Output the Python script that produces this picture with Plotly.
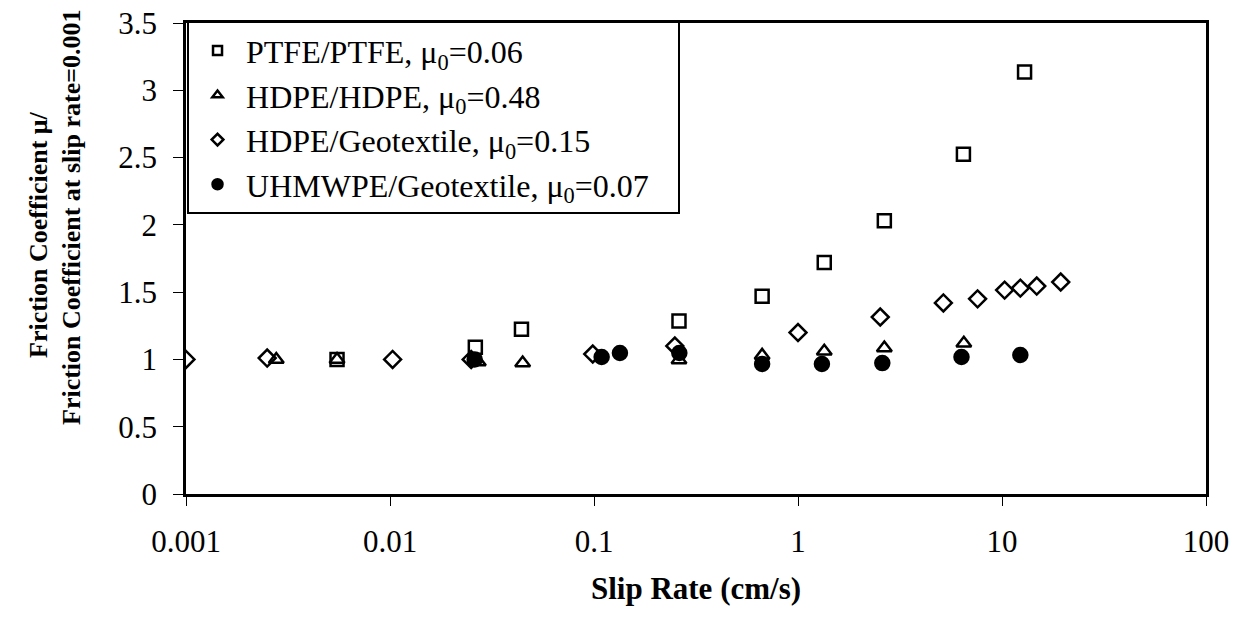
import plotly.graph_objects as go

# PTFE/PTFE
ptfe_x = [0.0055, 0.0262, 0.0441, 0.261, 0.667, 1.345, 2.65, 6.47, 12.9]
ptfe_y = [1.00, 1.09, 1.225, 1.285, 1.47, 1.72, 2.03, 2.525, 3.135]
# HDPE/HDPE
hdpe_x = [0.00277, 0.0055, 0.0271, 0.0447, 0.261, 0.667, 1.345, 2.65, 6.5]
hdpe_y = [1.00, 1.00, 0.98, 0.973, 0.995, 1.03, 1.06, 1.085, 1.12]
# HDPE/Geotextile
geo_x = [0.001, 0.0025, 0.0103, 0.025, 0.0986, 0.249, 1.0, 2.53, 5.16, 7.59, 10.3, 12.3, 14.8, 19.4]
geo_y = [1.00, 1.01, 1.00, 1.00, 1.04, 1.10, 1.20, 1.315, 1.42, 1.45, 1.515, 1.53, 1.545, 1.575]
# UHMWPE/Geotextile
uh_x = [0.026, 0.109, 0.134, 0.262, 0.667, 1.31, 2.59, 6.33, 12.3]
uh_y = [1.00, 1.018, 1.048, 1.048, 0.966, 0.966, 0.973, 1.018, 1.033]

x_ticks = [0.001, 0.01, 0.1, 1, 10, 100]
x_labels = ["0.001", "0.01", "0.1", "1", "10", "100"]
y_ticks = [0, 0.5, 1, 1.5, 2, 2.5, 3, 3.5]
y_labels = ["0", "0.5", "1", "1.5", "2", "2.5", "3", "3.5"]

names = ["PTFE/PTFE, μ<sub>0</sub>=0.06", "HDPE/HDPE, μ<sub>0</sub>=0.48",
         "HDPE/Geotextile, μ<sub>0</sub>=0.15", "UHMWPE/Geotextile, μ<sub>0</sub>=0.07"]
series = [(ptfe_x, ptfe_y), (hdpe_x, hdpe_y), (geo_x, geo_y), (uh_x, uh_y)]
symbols = ["square-open", "triangle-up-open", "diamond-open", "circle"]
sizes = [13, 13, 13, 14]
legend_sizes = [9, 9, 9, 10]

fig = go.Figure()
for (xs, ys), sym, sz in zip(series, symbols, sizes):
    fig.add_trace(go.Scatter(x=xs, y=ys, mode="markers", showlegend=False,
                             marker=dict(symbol=sym, size=sz, color="black",
                                         line=dict(width=2.5, color="black"))))
# legend entries with smaller symbols (as in the reference)
pad = "\u00a0" * 3
for name, sym, sz in zip(names, symbols, legend_sizes):
    fig.add_trace(go.Scatter(x=[None], y=[None], mode="markers", name=name + pad,
                             marker=dict(symbol=sym, size=sz, color="black",
                                         line=dict(width=2.5, color="black"))))

font = "Liberation Serif, Times New Roman, serif"
fig.update_layout(
    width=1236, height=618,
    margin=dict(l=186, r=30, t=23, b=124, autoexpand=False),
    plot_bgcolor="white", paper_bgcolor="white",
    font=dict(family=font, size=31, color="black"),
    showlegend=True,
    legend=dict(x=0.001, y=1.004, xanchor="left", yanchor="top",
                bgcolor="white", bordercolor="black", borderwidth=2,
                font=dict(family=font, size=32, color="black"),
                itemsizing="trace", itemwidth=47, tracegroupgap=0),
)
fig.update_xaxes(type="log", range=[-3, 2], tickvals=x_ticks, ticktext=x_labels,
                 showgrid=False, zeroline=False, showline=True, linecolor="black", linewidth=2.5,
                 mirror=True, ticks="outside", ticklen=9, tickwidth=1, tickcolor="black",
                 tickfont=dict(size=31), ticklabelstandoff=9, ticklabeloverflow="allow",
                 automargin=False,
                 title=dict(text="<b>Slip Rate (cm/s)</b>", font=dict(size=31), standoff=20))
fig.update_yaxes(range=[0, 3.5], tickvals=y_ticks, ticktext=y_labels,
                 showgrid=False, zeroline=False, showline=True, linecolor="black", linewidth=2.5,
                 mirror=True, ticks="outside", ticklen=10, tickwidth=1, tickcolor="black",
                 tickfont=dict(size=31), ticklabelstandoff=10, ticklabeloverflow="allow",
                 automargin=False)

# y-axis title as two rotated lines (positions in page pixels)
plot_w, plot_h = 1020, 471
fig.add_annotation(text="<b>Friction Coefficient μ/</b>", xref="paper", yref="paper",
                   x=(38 - 186) / plot_w, y=(494 - 235) / plot_h, showarrow=False, textangle=-90,
                   xanchor="center", yanchor="middle", font=dict(size=26))
fig.add_annotation(text="<b>Friction Coefficient at slip rate=0.001</b>", xref="paper", yref="paper",
                   x=(71 - 186) / plot_w, y=(494 - 217) / plot_h, showarrow=False, textangle=-90,
                   xanchor="center", yanchor="middle", font=dict(size=26))

fig.write_html("out.html", config={"displayModeBar": False},
               post_script="document.body.style.margin='0';")
